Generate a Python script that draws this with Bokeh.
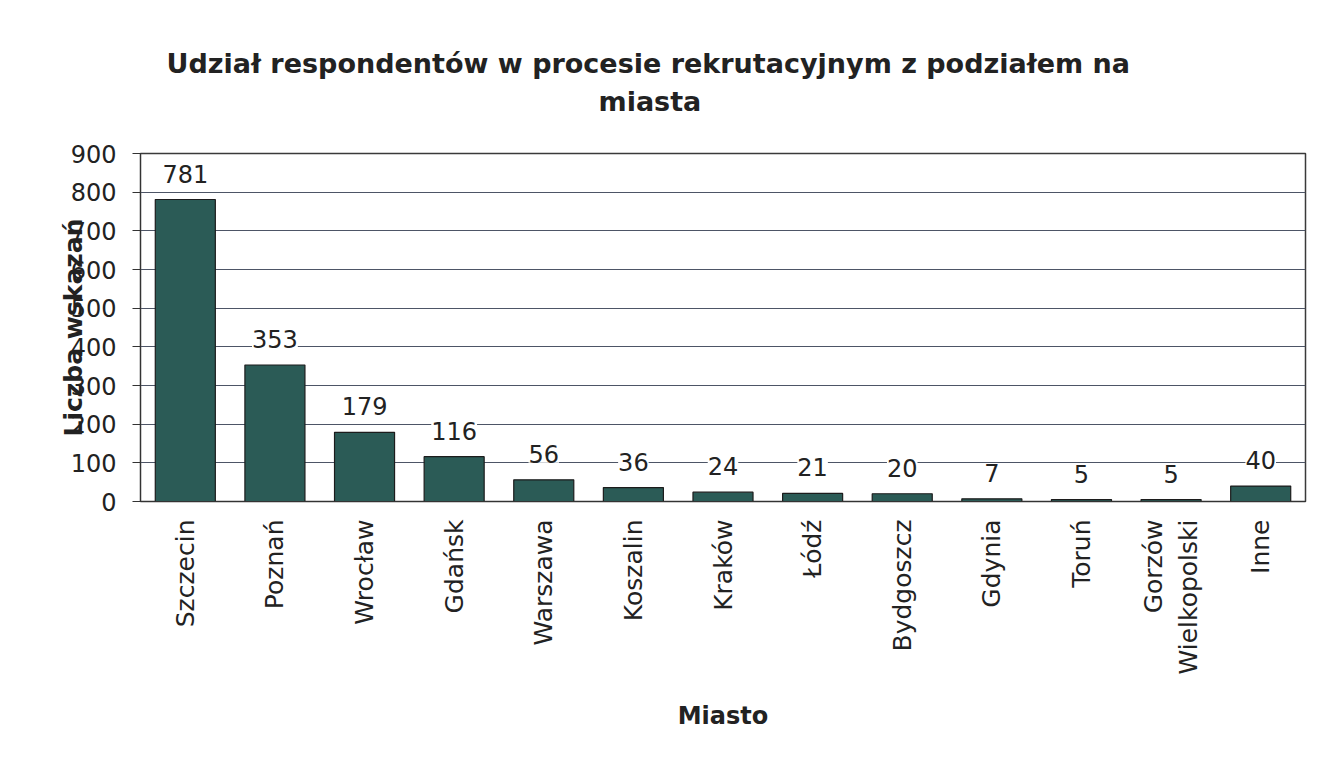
import math
from bokeh.plotting import figure
from bokeh.models import ColumnDataSource, LabelSet, Title, FixedTicker
from bokeh.core.properties import value
from bokeh.embed import file_html
from bokeh.resources import INLINE

cities = ["Szczecin", "Poznań", "Wrocław", "Gdańsk", "Warszawa", "Koszalin", "Kraków",
          "Łódź", "Bydgoszcz", "Gdynia", "Toruń", "Gorzów\nWielkopolski", "Inne"]
counts = [781, 353, 179, 116, 56, 36, 24, 21, 20, 7, 5, 5, 40]
y_ticks = [0, 100, 200, 300, 400, 500, 600, 700, 800, 900]
title_lines = ["Udział respondentów w procesie rekrutacyjnym z podziałem na", "miasta"]
x_title = "Miasto"
y_title = "Liczba wskazań"

FONT = "DejaVu Sans"
BAR = "#2b5b56"
TXT = "#222222"

src = ColumnDataSource(dict(city=cities, count=counts, label=[str(c) for c in counts]))

W, H = 1331, 762
p = figure(x_range=cities, y_range=(0, 900), width=W, height=H, title=None,
           output_backend="svg", toolbar_location=None,
           min_border_left=140, min_border_right=W - 1305,
           min_border_top=153, min_border_bottom=H - 501)
p.background_fill_color = "white"
p.border_fill_color = "white"
p.outline_line_color = "#3a3a3a"
p.outline_line_width = 1.5

p.vbar(x="city", top="count", width=0.67, source=src, fill_color=BAR,
       line_color="#1c1c1c", line_width=1.2)

labels = LabelSet(x="city", y="count", text="label", source=src, y_offset=26,
                  text_align="center", text_baseline="middle",
                  text_font=value(FONT), text_font_size=value("24px"), text_color=TXT,
                  background_fill_color="white", background_fill_alpha=1.0)
p.add_layout(labels)

# grid
p.xgrid.grid_line_color = None
p.ygrid.grid_line_color = "#4d5566"
p.ygrid.grid_line_width = 1.2
p.ygrid.ticker = FixedTicker(ticks=y_ticks)

# y axis
p.yaxis.ticker = FixedTicker(ticks=y_ticks)
p.yaxis.minor_tick_line_color = None
p.yaxis.major_tick_out = 8
p.yaxis.major_tick_in = 0
p.yaxis.major_tick_line_color = "#333333"
p.yaxis.axis_line_color = "#333333"
p.yaxis.major_label_text_font = FONT
p.yaxis.major_label_text_font_size = "24px"
p.yaxis.major_label_text_color = TXT
p.yaxis.major_label_standoff = 16
p.yaxis.axis_label = y_title
p.yaxis.axis_label_text_font = FONT
p.yaxis.axis_label_text_font_style = "bold"
p.yaxis.axis_label_text_font_size = "25px"
p.yaxis.axis_label_text_color = TXT
p.yaxis.axis_label_standoff = -20

# x axis
p.xaxis.major_label_orientation = math.pi / 2
p.xaxis.major_tick_line_color = None
p.xaxis.axis_line_color = "#333333"
p.xaxis.major_label_text_font = FONT
p.xaxis.major_label_text_font_size = "25px"
p.xaxis.major_label_text_color = TXT
p.xaxis.major_label_standoff = 12
p.xaxis.axis_label = x_title
p.xaxis.axis_label_text_font = FONT
p.xaxis.axis_label_text_font_style = "bold"
p.xaxis.axis_label_text_font_size = "24px"
p.xaxis.axis_label_text_color = TXT
p.xaxis.axis_label_standoff = 25

# title: spacer closest to the plot, then line 2, then line 1
spacer = Title(text=" ", standoff=32, text_font=FONT, text_font_size="1px")
t2 = Title(text=title_lines[1], align="left", offset=458, standoff=4,
           text_font=FONT, text_font_style="bold", text_font_size="27px", text_color=TXT)
t1 = Title(text=title_lines[0], align="left", offset=26, standoff=6,
           text_font=FONT, text_font_style="bold", text_font_size="27px", text_color=TXT)
p.add_layout(spacer, "above")
p.add_layout(t2, "above")
p.add_layout(t1, "above")

open("out.html", "w").write(file_html(p, INLINE))
